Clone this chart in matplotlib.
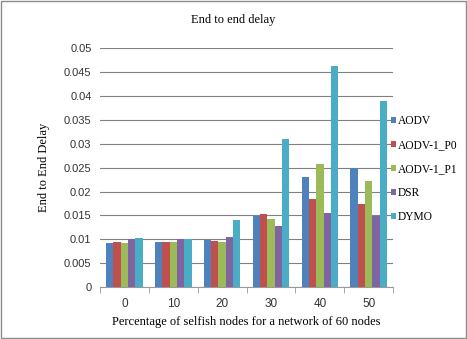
import matplotlib
matplotlib.use("Agg")
import matplotlib.pyplot as plt
import numpy as np
from matplotlib.patches import Rectangle

categories = ["0", "10", "20", "30", "40", "50"]
series_names = ["AODV", "AODV-1_P0", "AODV-1_P1", "DSR", "DYMO"]
aodv = [0.0092, 0.0094, 0.0098, 0.0148, 0.0230, 0.0250]
aodv_p0 = [0.0094, 0.0095, 0.0096, 0.0152, 0.0185, 0.0174]
aodv_p1 = [0.0092, 0.0094, 0.0094, 0.0142, 0.0258, 0.0221]
dsr = [0.0100, 0.0100, 0.0104, 0.0127, 0.0155, 0.0148]
dymo = [0.0102, 0.0101, 0.0140, 0.0310, 0.0463, 0.0390]
yticks = [0, 0.005, 0.01, 0.015, 0.02, 0.025, 0.03, 0.035, 0.04, 0.045, 0.05]
ytick_labels = ["0", "0.005", "0.01", "0.015", "0.02", "0.025", "0.03", "0.035", "0.04", "0.045", "0.05"]

colors = ["#4F81BD", "#C0504D", "#9BBB59", "#8064A2", "#4BACC6"]
serif = "Liberation Serif"

fig = plt.figure(figsize=(4.67, 3.39), dpi=100)
ax = fig.add_axes([0.214, 0.153, 0.628, 0.705])

data = [aodv, aodv_p0, aodv_p1, dsr, dymo]
x = np.arange(len(categories))
w = 0.15
for i, (vals, name) in enumerate(zip(data, series_names)):
    ax.bar(x + (i - 2) * w, vals, width=w, color=colors[i], label=name, zorder=3)

ax.set_xlim(-0.5, len(categories) - 0.5)
ax.set_ylim(0, 0.05)
ax.set_yticks(yticks)
ax.set_yticklabels(ytick_labels, fontsize=8, family="Liberation Sans", color="#333333")
ax.set_xticks(x)
ax.set_xticklabels(categories, fontsize=8.5, family="Liberation Sans", color="#333333")
ax.tick_params(axis="y", length=0, pad=6)
ax.tick_params(axis="x", length=0, pad=8)
ax.set_xticks(np.arange(-0.5, len(categories), 1.0), minor=True)
ax.tick_params(axis="x", which="minor", length=4, color="#999999")
ax.yaxis.grid(True, color="#808080", linewidth=0.8, zorder=0)
for s in ["top", "right", "left"]:
    ax.spines[s].set_visible(False)
ax.spines["bottom"].set_color("#999999")

ax.set_ylabel("End to End Delay", fontsize=9, family=serif, labelpad=10)
ax.set_xlabel("Percentage of selfish nodes for a network of 60 nodes", fontsize=9, family=serif, labelpad=4)
fig.text(0.5, 0.94, "End to end delay", ha="center", va="center", fontsize=9, family=serif)

leg = ax.legend(loc="upper left", bbox_to_anchor=(0.992, 0.72), frameon=False,
                prop={"family": serif, "size": 8.3}, handlelength=0.45, handleheight=0.45,
                handletextpad=0.15, labelspacing=1.05, borderaxespad=0, borderpad=0)

fig.patches.append(Rectangle((0.002, 0.003), 0.996, 0.994, transform=fig.transFigure,
                             fill=False, edgecolor="#8c8c8c", linewidth=1.0))
fig.savefig("out.png", dpi=100)
